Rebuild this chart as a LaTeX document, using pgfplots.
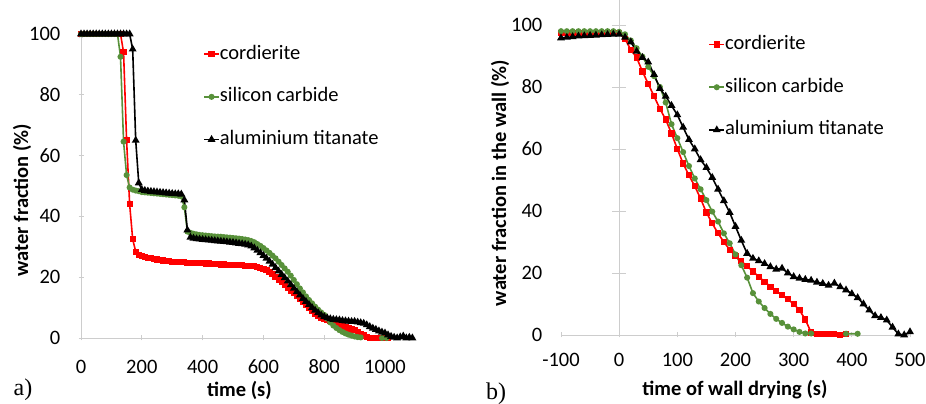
\documentclass[border=0pt]{standalone}
\usepackage{pgfplots}
\pgfplotsset{compat=1.18}
\usepackage{fontspec}
\setmainfont{Carlito}
\newfontfamily\serif{Liberation Serif}
\definecolor{sicgreen}{RGB}{88,145,58}
\definecolor{axgray}{RGB}{205,205,205}
\begin{document}
\begin{tikzpicture}
\useasboundingbox (0pt,0pt) rectangle (926pt,404pt);
\pgfplotsset{
  common/.style={
    scale only axis,
    axis line style={draw=axgray, line width=0.9pt, -},
    tick style={draw=axgray, line width=0.9pt},
    tick align=outside, major tick length=5pt,
    every tick label/.append style={font=\fontsize{20.5}{24}\selectfont, inner sep=0pt},
    legend cell align=left,
    legend style={draw=none, fill=none, inner sep=0pt, row sep=24.7pt,
      font=\fontsize{20.5}{24}\selectfont,
      nodes={inner sep=0pt, text height=14pt, text depth=4pt}},
    legend image code/.code={\draw[mark repeat=2,mark phase=2,#1] plot coordinates {(0pt,0pt) (7.5pt,0pt) (15pt,0pt)};},
    clip=false,
  },
  cord/.style={red, line width=1.6pt, mark=square*, mark size=2.3pt, mark options={solid}},
  sic/.style={sicgreen, line width=1.6pt, mark=*, mark size=2.2pt, mark options={solid}},
  alti/.style={black, line width=1.6pt, mark=triangle*, mark size=3pt, mark options={solid}},
}
% ---------------- (a) ----------------
\begin{axis}[common,
  at={(81pt,66pt)}, anchor=south west, width=334.4pt, height=304pt,
  xmin=0, xmax=1100, ymin=0, ymax=100,
  axis x line=bottom, axis y line=left,
  xtick={0,200,400,600,800,1000}, xticklabels={0,200,400,600,800,1000},
  ytick={0,20,40,60,80,100}, yticklabels={0,20,40,60,80,100},
  xticklabel style={anchor=north, yshift=-19pt},
  yticklabel style={anchor=east, xshift=-18pt},
  legend style={at={(0.365,0.964)}, anchor=north west},
]
\addplot[cord] coordinates {(0,100)(10,100)(20,100)(30,100)(40,100)(50,100)(60,100)(70,100)(80,100)(90,100)(100,100)(110,100)(120,100)(130,100)(140,94)(150,65)(160,44)(170,32.5)(180,28.4)(190,27.4)(200,27.0)(210,26.7)(220,26.4)(230,26.2)(240,26.0)(250,25.8)(260,25.6)(270,25.5)(280,25.4)(290,25.2)(300,25.1)(310,25.0)(320,25.0)(330,24.9)(340,24.9)(350,24.8)(360,24.8)(370,24.7)(380,24.7)(390,24.6)(400,24.6)(410,24.5)(420,24.5)(430,24.4)(440,24.4)(450,24.3)(460,24.2)(470,24.2)(480,24.1)(490,24.1)(500,24.0)(510,24.0)(520,23.9)(530,23.9)(540,23.8)(550,23.8)(560,23.7)(570,23.6)(580,23.4)(590,23.1)(600,22.8)(610,22.3)(620,21.7)(630,21.0)(640,20.1)(650,19.2)(660,18.3)(670,17.4)(680,16.5)(690,15.6)(700,14.7)(710,13.7)(720,12.8)(730,11.8)(740,10.8)(750,9.8)(760,8.9)(770,8.0)(780,7.2)(790,6.6)(800,6.2)(810,5.9)(820,5.6)(830,5.2)(840,4.8)(850,4.3)(860,3.9)(870,3.5)(880,3.1)(890,2.8)(900,2.5)(910,2.0)(920,1.4)(930,0.8)(940,0.3)(950,0.1)(960,0)(970,0)(980,0)(990,0)(1000,0)(1010,0)};
\addlegendentry{cordierite}
\addplot[sic] coordinates {(0,100)(10,100)(20,100)(30,100)(40,100)(50,100)(60,100)(70,100)(80,100)(90,100)(100,100)(110,100)(120,100)(130,92.5)(140,64.6)(150,53.6)(160,49.5)(170,48.8)(180,48.5)(190,48.3)(200,48.0)(210,47.9)(220,47.8)(230,47.7)(240,47.6)(250,47.5)(260,47.4)(270,47.3)(280,47.2)(290,47.1)(300,47.0)(310,46.9)(320,46.8)(330,46.6)(340,43.0)(350,35.0)(360,34.6)(370,34.3)(380,34.1)(390,33.9)(400,33.8)(410,33.7)(420,33.6)(430,33.5)(440,33.4)(450,33.35)(460,33.3)(470,33.2)(480,33.1)(490,33.0)(500,32.9)(510,32.8)(520,32.7)(530,32.55)(540,32.4)(550,32.2)(560,31.9)(570,31.5)(580,30.9)(590,30.3)(600,29.6)(610,28.8)(620,28.0)(630,27.1)(640,26.2)(650,25.1)(660,24.0)(670,22.9)(680,21.8)(690,20.5)(700,19.1)(710,17.7)(720,16.3)(730,15.0)(740,13.7)(750,12.5)(760,11.4)(770,10.3)(780,9.3)(790,8.4)(800,7.6)(810,6.4)(820,5.1)(830,4.1)(840,3.3)(850,2.6)(860,2.0)(870,1.5)(880,1.1)(890,0.8)(900,0.5)(910,0.3)(920,0.2)(990,0)(1005,0)};
\addlegendentry{silicon carbide}
\addplot[alti] coordinates {(0,100)(10,100)(20,100)(30,100)(40,100)(50,100)(60,100)(70,100)(80,100)(90,100)(100,100)(110,100)(120,100)(130,100)(140,100)(150,100)(160,100)(170,95)(180,65)(190,51)(200,48.8)(210,48.5)(220,48.3)(230,48.2)(240,48.1)(250,48.0)(260,47.9)(270,47.8)(280,47.7)(290,47.6)(300,47.5)(310,47.4)(320,47.4)(330,47.3)(340,45.4)(350,35.5)(360,33.1)(370,32.8)(380,32.6)(390,32.5)(400,32.4)(410,32.3)(420,32.2)(430,32.1)(440,32.0)(450,31.9)(460,31.8)(470,31.7)(480,31.6)(490,31.5)(500,31.4)(510,31.25)(520,31.1)(530,30.95)(540,30.8)(550,30.6)(560,30.2)(570,29.6)(580,28.8)(590,28.0)(600,27.1)(610,26.2)(620,25.2)(630,24.2)(640,23.1)(650,22.0)(660,20.9)(670,19.8)(680,18.7)(690,17.5)(700,16.3)(710,15.2)(720,14.1)(730,13.0)(740,12.0)(750,11.0)(760,10.0)(770,9.1)(780,8.3)(790,7.5)(800,7.0)(810,6.6)(820,6.3)(830,6.1)(840,6.0)(850,5.9)(860,5.7)(870,5.6)(880,5.5)(890,5.4)(900,5.4)(910,5.2)(920,5.0)(930,4.8)(940,4.3)(950,3.7)(960,3.2)(970,2.8)(980,2.3)(990,1.9)(1000,1.6)(1010,1.0)(1020,0.5)(1030,0.2)(1040,0.0)(1050,0.3)(1060,0.6)(1070,0.0)(1080,0.2)(1090,0.0)};
\addlegendentry{aluminium titanate}
\end{axis}
% ---------------- (b) ----------------
\begin{axis}[common,
  at={(561pt,69pt)}, anchor=south west, width=349pt, height=334.8pt,
  xmin=-100, xmax=500, ymin=0, ymax=108,
  axis x line=bottom, axis y line=left, y axis line style={draw=none},
  xtick={-100,0,100,200,300,400,500}, xticklabels={-100,0,100,200,300,400,500},
  ytick={0,20,40,60,80,100}, yticklabels={0,20,40,60,80,100},
  ytick style={draw=none},
  xticklabel style={anchor=north, yshift=-15pt},
  yticklabel style={anchor=east, xshift=-16pt},
  legend style={at={(0.422,0.895)}, anchor=north west},
]
\draw[axgray, line width=0.9pt] (axis cs:0,0) -- (axis cs:0,108);
\draw[axgray, line width=0.9pt] ([xshift=-7pt]axis cs:0,20) -- ([xshift=7pt]axis cs:0,20);
\draw[axgray, line width=0.9pt] ([xshift=-7pt]axis cs:0,40) -- ([xshift=7pt]axis cs:0,40);
\draw[axgray, line width=0.9pt] ([xshift=-7pt]axis cs:0,60) -- ([xshift=7pt]axis cs:0,60);
\draw[axgray, line width=0.9pt] ([xshift=-7pt]axis cs:0,80) -- ([xshift=7pt]axis cs:0,80);
\draw[axgray, line width=0.9pt] ([xshift=-7pt]axis cs:0,100) -- ([xshift=7pt]axis cs:0,100);
\addplot[cord] coordinates {(-100,97.3)(-90,97.3)(-80,97.3)(-70,97.3)(-60,97.4)(-50,97.4)(-40,97.4)(-30,97.4)(-20,97.5)(-10,97.5)(0,97.5)(10,95.5)(20,92)(30,89.5)(40,85)(50,81)(60,77)(70,73)(80,69.5)(90,65)(100,60)(110,55.3)(120,51.5)(130,48)(140,44)(150,39.5)(160,36)(170,32.8)(180,30)(190,27.5)(200,25.5)(210,23.8)(220,22.2)(230,20.5)(240,18.8)(250,17.2)(260,15.6)(270,14.2)(280,12.8)(290,11.5)(300,10)(310,8)(320,5)(330,0.8)(340,0.2)(350,0.4)(360,0.3)(370,0.2)(380,0.1)(390,0.2)};
\addlegendentry{cordierite}
\addplot[sic] coordinates {(-100,98)(-90,98)(-80,98)(-70,98)(-60,98)(-50,98)(-40,98)(-30,98)(-20,98)(-10,98)(0,97.8)(10,97)(20,95)(30,92.5)(40,89.8)(50,86.5)(60,83.5)(70,80)(80,75)(90,68)(100,63.5)(110,59)(120,54.5)(130,50.5)(140,47)(150,43.5)(160,39.8)(170,36.6)(180,32.8)(190,29.6)(200,26)(210,22.5)(220,18.5)(230,13.5)(240,10.8)(250,8.7)(260,6.8)(270,5.2)(280,3.9)(290,2.7)(300,1.8)(310,1.0)(320,0.5)(330,0.5)(390,0.4)(410,0.4)};
\addlegendentry{silicon carbide}
\addplot[alti] coordinates {(-100,95.8)(-90,96.0)(-80,96.2)(-70,96.4)(-60,96.5)(-50,96.6)(-40,96.7)(-30,96.8)(-20,96.9)(-10,97.0)(0,97.0)(10,96)(20,94.5)(30,91.5)(40,89.5)(50,88)(60,84)(70,79.5)(80,77)(90,74)(100,71)(110,67)(120,63)(130,60)(140,56.5)(150,54)(160,50.8)(170,47)(180,43.3)(190,39.5)(200,35)(210,30.5)(220,26.3)(230,24.7)(240,23.9)(250,23)(260,22)(270,21.2)(280,21.5)(290,20)(300,18.8)(310,18.3)(320,17.9)(330,17.6)(340,17)(350,16.6)(360,16)(370,16.7)(380,15.5)(390,14.5)(400,13.3)(410,12)(420,10)(430,8)(440,6.2)(450,5.6)(460,4.8)(470,2.5)(480,0.3)(490,0)(500,1)};
\addlegendentry{aluminium titanate}
\end{axis}
% ---------------- labels ----------------
\node[font=\fontsize{20.5}{24}\selectfont\bfseries] at (239.5pt,14pt) {time (s)};
\node[font=\fontsize{20.5}{24}\selectfont\bfseries, rotate=90] at (22pt,204pt) {water fraction (\%)};
\node[font=\fontsize{20.5}{24}\selectfont\bfseries] at (735pt,14pt) {time of wall drying (s)};
\node[font=\fontsize{20.5}{24}\selectfont\bfseries, rotate=90] at (500pt,221pt) {water fraction in the wall (\%)};
\node[font=\fontsize{24}{28}\selectfont\serif] at (23pt,14pt) {a)};
\node[font=\fontsize{24}{28}\selectfont\serif] at (496pt,10pt) {b)};
\end{tikzpicture}
\end{document}
